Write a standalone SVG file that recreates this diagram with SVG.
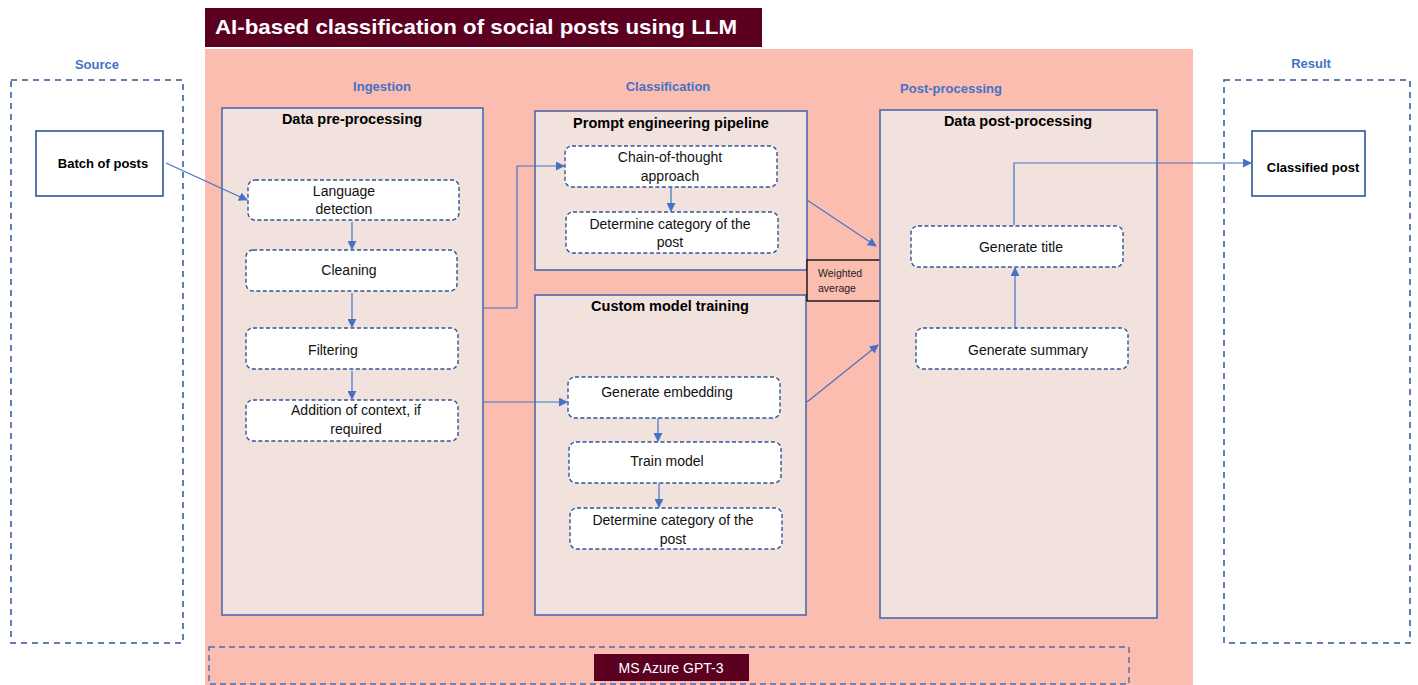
<svg xmlns="http://www.w3.org/2000/svg" width="1418" height="685" viewBox="0 0 1418 685">
<style>
text{font-family:"Liberation Sans","Open Sans",sans-serif;}
.lbl{fill:#4472C4;font-weight:bold;font-size:13px;text-anchor:middle;}
.grp{fill:#F1E2DE;stroke:#4A6BAE;stroke-width:1.6;}
.gt{font-weight:bold;font-size:14.5px;text-anchor:middle;fill:#000;}
.step{fill:#fff;stroke:#2F5597;stroke-width:1.4;stroke-dasharray:4 2.5;}
.st{font-size:14px;text-anchor:middle;fill:#111;}
.outer{fill:#fff;stroke:#2F5597;stroke-width:1.5;stroke-dasharray:6 5;}
.io{fill:#fff;stroke:#2F5597;stroke-width:1.6;}
.iot{font-weight:bold;font-size:13px;text-anchor:middle;fill:#000;}
.con{fill:none;stroke:#4472C4;stroke-width:1.2;}
</style>
<defs>
<marker id="ah" viewBox="0 0 10 10" refX="9" refY="5" markerWidth="9" markerHeight="9" markerUnits="userSpaceOnUse" orient="auto">
<path d="M0,0 L10,5 L0,10 z" fill="#4472C4"/>
</marker>
</defs>
<rect x="0" y="0" width="1418" height="685" fill="#fff"/>
<rect x="205" y="49" width="988" height="636" fill="#FBBDB0"/>
<g id="title">
<rect x="205" y="8" width="557" height="39" fill="#5C0022"/>
<text x="215" y="34" font-size="21" font-weight="bold" fill="#fff" textLength="522" lengthAdjust="spacingAndGlyphs">AI-based classification of social posts using LLM</text>
</g>
<g id="labels">
<text class="lbl" x="97" y="69">Source</text>
<text class="lbl" x="1311" y="68">Result</text>
<text class="lbl" x="382" y="91">Ingestion</text>
<text class="lbl" x="668" y="91">Classification</text>
<text class="lbl" x="951" y="93">Post-processing</text>
</g>
<g id="source">
<rect class="outer" x="11" y="80" width="172" height="563"/>
</g>
<g id="result">
<rect class="outer" x="1224" y="80" width="186" height="563"/>
</g>
<g id="batch">
<rect class="io" x="36" y="131" width="127" height="65"/>
<text class="iot" x="103" y="168">Batch of posts</text>
</g>
<g id="classified">
<rect class="io" x="1252" y="131" width="113" height="65"/>
<text class="iot" x="1313" y="172">Classified post</text>
</g>
<g id="preproc">
<rect class="grp" x="222" y="108" width="261" height="507"/>
<text class="gt" x="352" y="124">Data pre-processing</text>
</g>
<g id="langdet">
<rect class="step" x="248" y="180" width="211" height="40" rx="7"/>
<text class="st" x="344" y="196">Language</text>
<text class="st" x="344" y="214">detection</text>
</g>
<g id="cleaning">
<rect class="step" x="246" y="250" width="211" height="41" rx="7"/>
<text class="st" x="349" y="275">Cleaning</text>
</g>
<g id="filtering">
<rect class="step" x="246" y="328" width="212" height="41" rx="7"/>
<text class="st" x="333" y="355">Filtering</text>
</g>
<g id="context">
<rect class="step" x="246" y="400" width="212" height="41" rx="7"/>
<text class="st" x="356" y="415">Addition of context, if</text>
<text class="st" x="356" y="434">required</text>
</g>
<g id="prompt">
<rect class="grp" x="535" y="111" width="272" height="159"/>
<text class="gt" x="671" y="128">Prompt engineering pipeline</text>
</g>
<g id="cot">
<rect class="step" x="565" y="146" width="212" height="41" rx="7"/>
<text class="st" x="670" y="162">Chain-of-thought</text>
<text class="st" x="670" y="181">approach</text>
</g>
<g id="detcat1">
<rect class="step" x="566" y="212" width="212" height="41" rx="7"/>
<text class="st" x="670" y="229">Determine category of the</text>
<text class="st" x="670" y="247">post</text>
</g>
<g id="custom">
<rect class="grp" x="535" y="295" width="271" height="320"/>
<text class="gt" x="670" y="311">Custom model training</text>
</g>
<g id="embed">
<rect class="step" x="568" y="377" width="212" height="41" rx="7"/>
<text class="st" x="667" y="397">Generate embedding</text>
</g>
<g id="train">
<rect class="step" x="569" y="442" width="212" height="41" rx="7"/>
<text class="st" x="667" y="466">Train model</text>
</g>
<g id="detcat2">
<rect class="step" x="570" y="508" width="212" height="41" rx="7"/>
<text class="st" x="673" y="525">Determine category of the</text>
<text class="st" x="673" y="544">post</text>
</g>
<g id="weighted">
<rect x="807" y="260" width="74" height="41" fill="#FBBDB0" stroke="#000" stroke-width="1.3"/>
<text x="818" y="277" font-size="10.5" fill="#222">Weighted</text>
<text x="818" y="292" font-size="10.5" fill="#222">average</text>
</g>
<g id="postproc">
<rect class="grp" x="880" y="110" width="277" height="508"/>
<text class="gt" x="1018" y="126">Data post-processing</text>
</g>
<g id="gentitle">
<rect class="step" x="911" y="226" width="212" height="41" rx="7"/>
<text class="st" x="1021" y="252">Generate title</text>
</g>
<g id="gensum">
<rect class="step" x="916" y="328" width="212" height="41" rx="7"/>
<text class="st" x="1028" y="355">Generate summary</text>
</g>
<g id="azure">
<rect x="209" y="647" width="920" height="37" fill="none" stroke="#4A6BAE" stroke-width="1.4" stroke-dasharray="6 4"/>
<rect x="594" y="654" width="155" height="27" fill="#5C0022"/>
<text x="671" y="673" font-size="14" fill="#fff" text-anchor="middle">MS Azure GPT-3</text>
</g>
<g id="connectors">
<path class="con" d="M166,163 L247,200" marker-end="url(#ah)"/>
<path class="con" d="M352,222 L352,249" marker-end="url(#ah)"/>
<path class="con" d="M352,293 L352,327" marker-end="url(#ah)"/>
<path class="con" d="M352,371 L352,399" marker-end="url(#ah)"/>
<path class="con" d="M483,308 L517,308 L517,166 L564,166" marker-end="url(#ah)"/>
<path class="con" d="M483,402 L567,402" marker-end="url(#ah)"/>
<path class="con" d="M671,187 L671,211" marker-end="url(#ah)"/>
<path class="con" d="M658,418 L658,441" marker-end="url(#ah)"/>
<path class="con" d="M659,483 L659,507" marker-end="url(#ah)"/>
<path class="con" d="M807,200 L876,246" marker-end="url(#ah)"/>
<path class="con" d="M807,402 L878,345" marker-end="url(#ah)"/>
<path class="con" d="M1015,328 L1015,268" marker-end="url(#ah)"/>
<path class="con" d="M1014,225 L1014,163 L1251,163" marker-end="url(#ah)"/>
</g>
</svg>
